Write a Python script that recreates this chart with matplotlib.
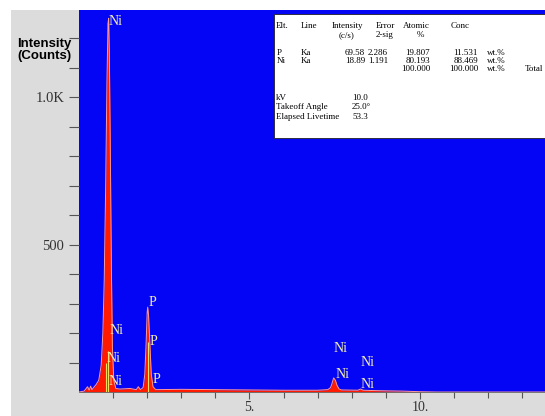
import matplotlib.pyplot as plt
from matplotlib.patches import Rectangle

# EDS spectrum (energy in keV, counts)
energy = [0.00, 0.15, 0.25, 0.30, 0.34, 0.38, 0.42, 0.50, 0.58, 0.65, 0.70, 0.74, 0.78,
          0.82, 0.85, 0.87, 0.89, 0.92, 0.95, 0.98, 1.02, 1.08, 1.20, 1.50, 1.68,
          1.74, 1.80, 1.88, 1.93, 1.97, 2.00, 2.015, 2.04, 2.08, 2.12, 2.17, 2.25,
          3.00, 4.00, 5.00, 6.00, 7.00, 7.30, 7.38, 7.43, 7.47, 7.52, 7.57, 7.63,
          7.70, 8.18, 8.26, 8.34, 8.60, 9.00, 9.50, 10.0, 10.5, 13.7]
counts = [0, 3, 18, 6, 20, 8, 14, 25, 40, 90, 200, 380, 680,
          1050, 1250, 1268, 1150, 800, 420, 150, 40, 12, 10, 12, 8,
          18, 8, 15, 60, 170, 270, 288, 260, 160, 60, 18, 8,
          9, 8, 7, 6, 6, 8, 15, 32, 48, 40, 22, 10,
          7, 6, 10, 6, 5, 4, 3, 1, 0, 0]

# peak identification labels (energy, counts, text)
label_x = [0.87, 0.89, 0.81, 0.87, 2.03, 2.06, 2.15, 7.47, 8.26, 7.52, 8.26]
label_y = [1258, 207, 112, 37, 303, 173, 44, 146, 99, 61, 27]
label_txt = ['Ni', 'Ni', 'Ni', 'Ni', 'P', 'P', 'P', 'Ni', 'Ni', 'Ni', 'Ni']

# KLM marker lines
marker_x = [0.78, 0.86, 2.03]
marker_h = [100, 140, 170]

# quantification table
elements = ['P', 'Ni']
lines = ['Ka', 'Ka']
intensity = ['69.58', '18.89']
error = ['2.286', '1.191']
atomic = ['19.807', '80.193']
conc = ['11.531', '88.469']

W, H = 545, 416
fig = plt.figure(figsize=(W / 100, H / 100), dpi=100, facecolor='white')


def px(x, y):
    return x / W, 1 - y / H


# gray panel behind the plot
fig.add_artist(Rectangle(px(11, H), (W - 11) / W, (H - 10) / H,
                         transform=fig.transFigure, facecolor='#dcdcdc',
                         edgecolor='none', zorder=0))

ax = fig.add_axes([79 / W, 1 - 392 / H, (W - 79) / W, (392 - 10) / H])
ax.set_facecolor('#0505f5')
ax.fill_between(energy, counts, color='#ff1a00', linewidth=0, zorder=2)
ax.plot(energy, counts, color='#ff9a9a', linewidth=0.7, zorder=3)
ax.vlines(marker_x, 0, marker_h, color='#f0e060', linewidth=0.8, zorder=4)

for x, y, t in zip(label_x, label_y, label_txt):
    ax.text(x, y, t, color='#f2eeb0', fontsize=10, family='Liberation Serif',
            ha='left', va='center', zorder=5)

ax.set_xlim(0, 13.67)
ax.set_ylim(0, 1296)
ax.set_xticks([5, 10])
ax.set_xticklabels(['5.', '10.'])
ax.set_xticks([1, 2, 3, 4, 6, 7, 8, 9, 11, 12, 13], minor=True)
ax.set_yticks([500, 1000])
ax.set_yticklabels(['500', '1.0K'])
ax.set_yticks([100, 200, 300, 400, 600, 700, 800, 900, 1100, 1200], minor=True)
ax.tick_params(axis='both', which='both', direction='out', color='#555555',
               labelsize=10.5, labelcolor='#333333')
ax.tick_params(axis='y', which='both', length=7, width=0.8)
ax.tick_params(axis='x', which='major', length=5, width=0.8, pad=1.5,
               labelsize=10)
ax.tick_params(axis='x', which='minor', length=4, width=0.8)
for lab in ax.get_xticklabels() + ax.get_yticklabels():
    lab.set_family('Liberation Serif')
for s in ['top', 'right', 'left']:
    ax.spines[s].set_visible(False)
ax.spines['bottom'].set_color('#666666')
ax.spines['bottom'].set_linewidth(0.6)

fig.text(*px(72, 50), 'Intensity\n(Counts)', ha='right', va='center',
         fontsize=9.5, fontweight='bold', family='Liberation Sans',
         linespacing=1.1)

# table box
fig.add_artist(Rectangle(px(274, 138), (W - 274) / W, (138 - 14) / H,
                         transform=fig.transFigure, facecolor='white',
                         edgecolor='#222222', linewidth=0.6, zorder=5))
tk = dict(fontsize=6.5, family='Liberation Serif', color='black', zorder=6,
          va='center')


def t(x, y, s, ha='left'):
    fig.text(*px(x, y), s, ha=ha, **tk)


t(276, 26, 'Elt.')
t(301, 26, 'Line')
t(347, 26, 'Intensity', 'center')
t(347, 35, '(c/s)', 'center')
t(376, 26, 'Error')
t(376, 35, '2-sig')
t(416, 26, 'Atomic', 'center')
t(420, 35, '%', 'center')
t(460, 26, 'Conc', 'center')
for i, yy in enumerate([53, 61]):
    t(277, yy, elements[i])
    t(301, yy, lines[i])
    t(365, yy, intensity[i], 'right')
    t(388, yy, error[i], 'right')
    t(430, yy, atomic[i], 'right')
    t(478, yy, conc[i], 'right')
    t(487, yy, 'wt.%')
t(430, 69, '100.000', 'right')
t(478, 69, '100.000', 'right')
t(487, 69, 'wt.%')
t(525, 69, 'Total')
t(276, 98, 'kV')
t(352, 98, '10.0')
t(276, 107, 'Takeoff Angle')
t(352, 107, '25.0\u00b0')
t(276, 117, 'Elapsed Livetime')
t(352, 117, '53.3')

fig.savefig('out.png', dpi=100, facecolor='white')
